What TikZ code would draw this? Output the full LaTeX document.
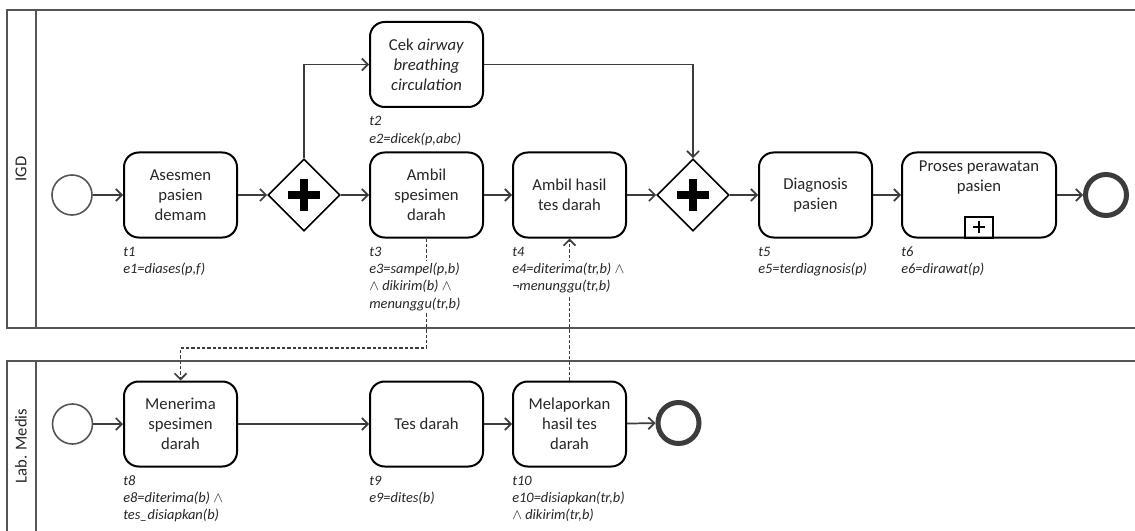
\documentclass[tikz,border=0pt]{standalone}
\usepackage{fontspec}
\setmainfont{Carlito}
\usetikzlibrary{arrows.meta,shapes.geometric}
\definecolor{ln}{HTML}{3C3C3C}
\definecolor{pl}{HTML}{555555}
\definecolor{tx}{HTML}{262626}
\newcommand\wbline[1]{{\setlength{\fboxsep}{0pt}\colorbox{white}{\strut #1}}}
\begin{document}
\begin{tikzpicture}[x=0.75pt,y=-0.75pt,
 task/.style={draw=black, line width=1.5pt, rounded corners=11pt, minimum width=84.75pt, minimum height=63.75pt, align=center, inner sep=2pt, text=tx, font=\fontsize{12.5}{15}\selectfont},
 lbl/.style={anchor=north west, inner sep=0pt, align=left, text=tx, font=\fontsize{10.8}{13}\selectfont\itshape},
 gw/.style={diamond, draw=black, line width=1.2pt, minimum width=54pt, minimum height=54pt, inner sep=0pt},
 startev/.style={circle, draw=pl, line width=1.2pt, minimum size=30pt, inner sep=0pt},
 endev/.style={circle, draw=ln, line width=3.75pt, minimum size=30.75pt, inner sep=0pt},
 flow/.style={draw=ln, line width=1.3pt, -{Straight Barb[length=4.5pt,width=9pt]}},
 msg/.style={draw=ln, line width=1.3pt, dash pattern=on 2.5pt off 1.5pt, -{Straight Barb[length=4.5pt,width=9pt]}},
 pool/.style={draw=pl, line width=1.2pt},
 lanetxt/.style={rotate=90, text=tx, font=\fontsize{12.5}{15}\selectfont},
 plusbar/.style={line width=6pt, black},
]
\useasboundingbox (0,0) rectangle (1135,531);
\clip (0,0) rectangle (1135,531);
\fill[white] (0,0) rectangle (1135,531);
% pools
\draw[pool] (1145,10) -- (7,10) -- (7,328) -- (1145,328);
\draw[pool] (36,10) -- (36,328);
\draw[pool] (1145,361) -- (7,361) -- (7,545);
\draw[pool] (36,361) -- (36,545);
\node[lanetxt] (lane1) at (21,169) {IGD};
\node[lanetxt] (lane2) at (21,446) {Lab. Medis};
% lane 1
\node[startev] (s1) at (72,195) {};
\node[task] (t1) at (180.5,195) {Asesmen\\pasien\\demam};
\node[gw] (g1) at (304,195) {};
\node[task] (t2) at (426.5,64.5) {Cek \textit{airway}\\\textit{breathing}\\\textit{circulation}};
\node[task] (t3) at (426.5,195) {Ambil\\spesimen\\darah};
\node[task] (t4) at (569.5,195) {Ambil hasil\\tes darah};
\node[gw] (g2) at (693,195) {};
\node[task] (t5) at (815.5,195) {Diagnosis\\pasien};
\node[task, minimum width=115.5pt] (t6) at (979,195) {};
\node[anchor=north, align=center, inner sep=0pt, text=tx, font=\fontsize{12.5}{15}\selectfont] (t6txt) at ([yshift=-7pt]t6.north) {Proses perawatan\\pasien};
\node[draw=black, line width=1.1pt, minimum width=21pt, minimum height=15.75pt, inner sep=0pt, anchor=south] (t6m) at (t6.south) {};
\draw[line width=1.8pt] ([xshift=-4.5pt]t6m.center) -- ([xshift=4.5pt]t6m.center);
\draw[line width=1.8pt] ([yshift=-4.5pt]t6m.center) -- ([yshift=4.5pt]t6m.center);
\node[endev] (e1) at (1106,195) {};
\foreach \g in {g1,g2}{
  \draw[plusbar] ([xshift=-11.8pt]\g.center) -- ([xshift=11.8pt]\g.center);
  \draw[plusbar] ([yshift=-11.8pt]\g.center) -- ([yshift=11.8pt]\g.center);
}
% lane 2
\node[startev] (s2) at (72.5,424) {};
\node[task] (t8) at (180.5,424) {Menerima\\spesimen\\darah};
\node[task] (t9) at (426.5,424) {Tes darah};
\node[task] (t10) at (569.5,424) {Melaporkan\\hasil tes\\darah};
\node[endev] (e2) at (678.5,423) {};
% flows
\draw[flow] (s1) -- (t1);
\draw[flow] (t1) -- (g1.west);
\draw[flow] (g1.east) -- (t3);
\draw[flow] (g1.north) |- (t2.west);
\draw[flow] (t2.east) -| (g2.north);
\draw[flow] (t3) -- (t4);
\draw[flow] (t4) -- (g2.west);
\draw[flow] (g2.east) -- (t5);
\draw[flow] (t5) -- (t6);
\draw[flow] (t6) -- (e1);
\draw[flow] (s2) -- (t8);
\draw[flow] (t8) -- (t9);
\draw[flow] (t9) -- (t10);
\draw[flow] (t10) -- (e2);
% message flows
\coordinate (mbend) at (426.5,348);
\draw[msg] (t3.south) -- (mbend) -| (t8.north);
\draw[msg] (t10.north) -- (t4.south);
% labels
\node[lbl] (l1) at ([yshift=-4pt]t1.south west) {\wbline{t1}\\\wbline{e1=diases(p,f)}};
\node[lbl] (l2) at ([yshift=-4pt]t2.south west) {\wbline{t2}\\\wbline{e2=dicek(p,abc)}};
\node[lbl] (l3) at ([yshift=-4pt]t3.south west) {\wbline{t3}\\\wbline{e3=sampel(p,b)}\\\wbline{$\wedge$ dikirim(b) $\wedge$}\\\wbline{menunggu(tr,b)}};
\node[lbl] (l4) at ([yshift=-4pt]t4.south west) {\wbline{t4}\\\wbline{e4=diterima(tr,b) $\wedge$}\\\wbline{¬menunggu(tr,b)}};
\node[lbl] (l5) at ([yshift=-4pt]t5.south west) {\wbline{t5}\\\wbline{e5=terdiagnosis(p)}};
\node[lbl] (l6) at ([yshift=-4pt]t6.south west) {\wbline{t6}\\\wbline{e6=dirawat(p)}};
\node[lbl] (l8) at ([yshift=-4pt]t8.south west) {\wbline{t8}\\\wbline{e8=diterima(b) $\wedge$}\\\wbline{tes\_disiapkan(b)}};
\node[lbl] (l9) at ([yshift=-4pt]t9.south west) {\wbline{t9}\\\wbline{e9=dites(b)}};
\node[lbl] (l10) at ([yshift=-4pt]t10.south west) {\wbline{t10}\\\wbline{e10=disiapkan(tr,b)}\\\wbline{$\wedge$ dikirim(tr,b)}};
\end{tikzpicture}
\end{document}
